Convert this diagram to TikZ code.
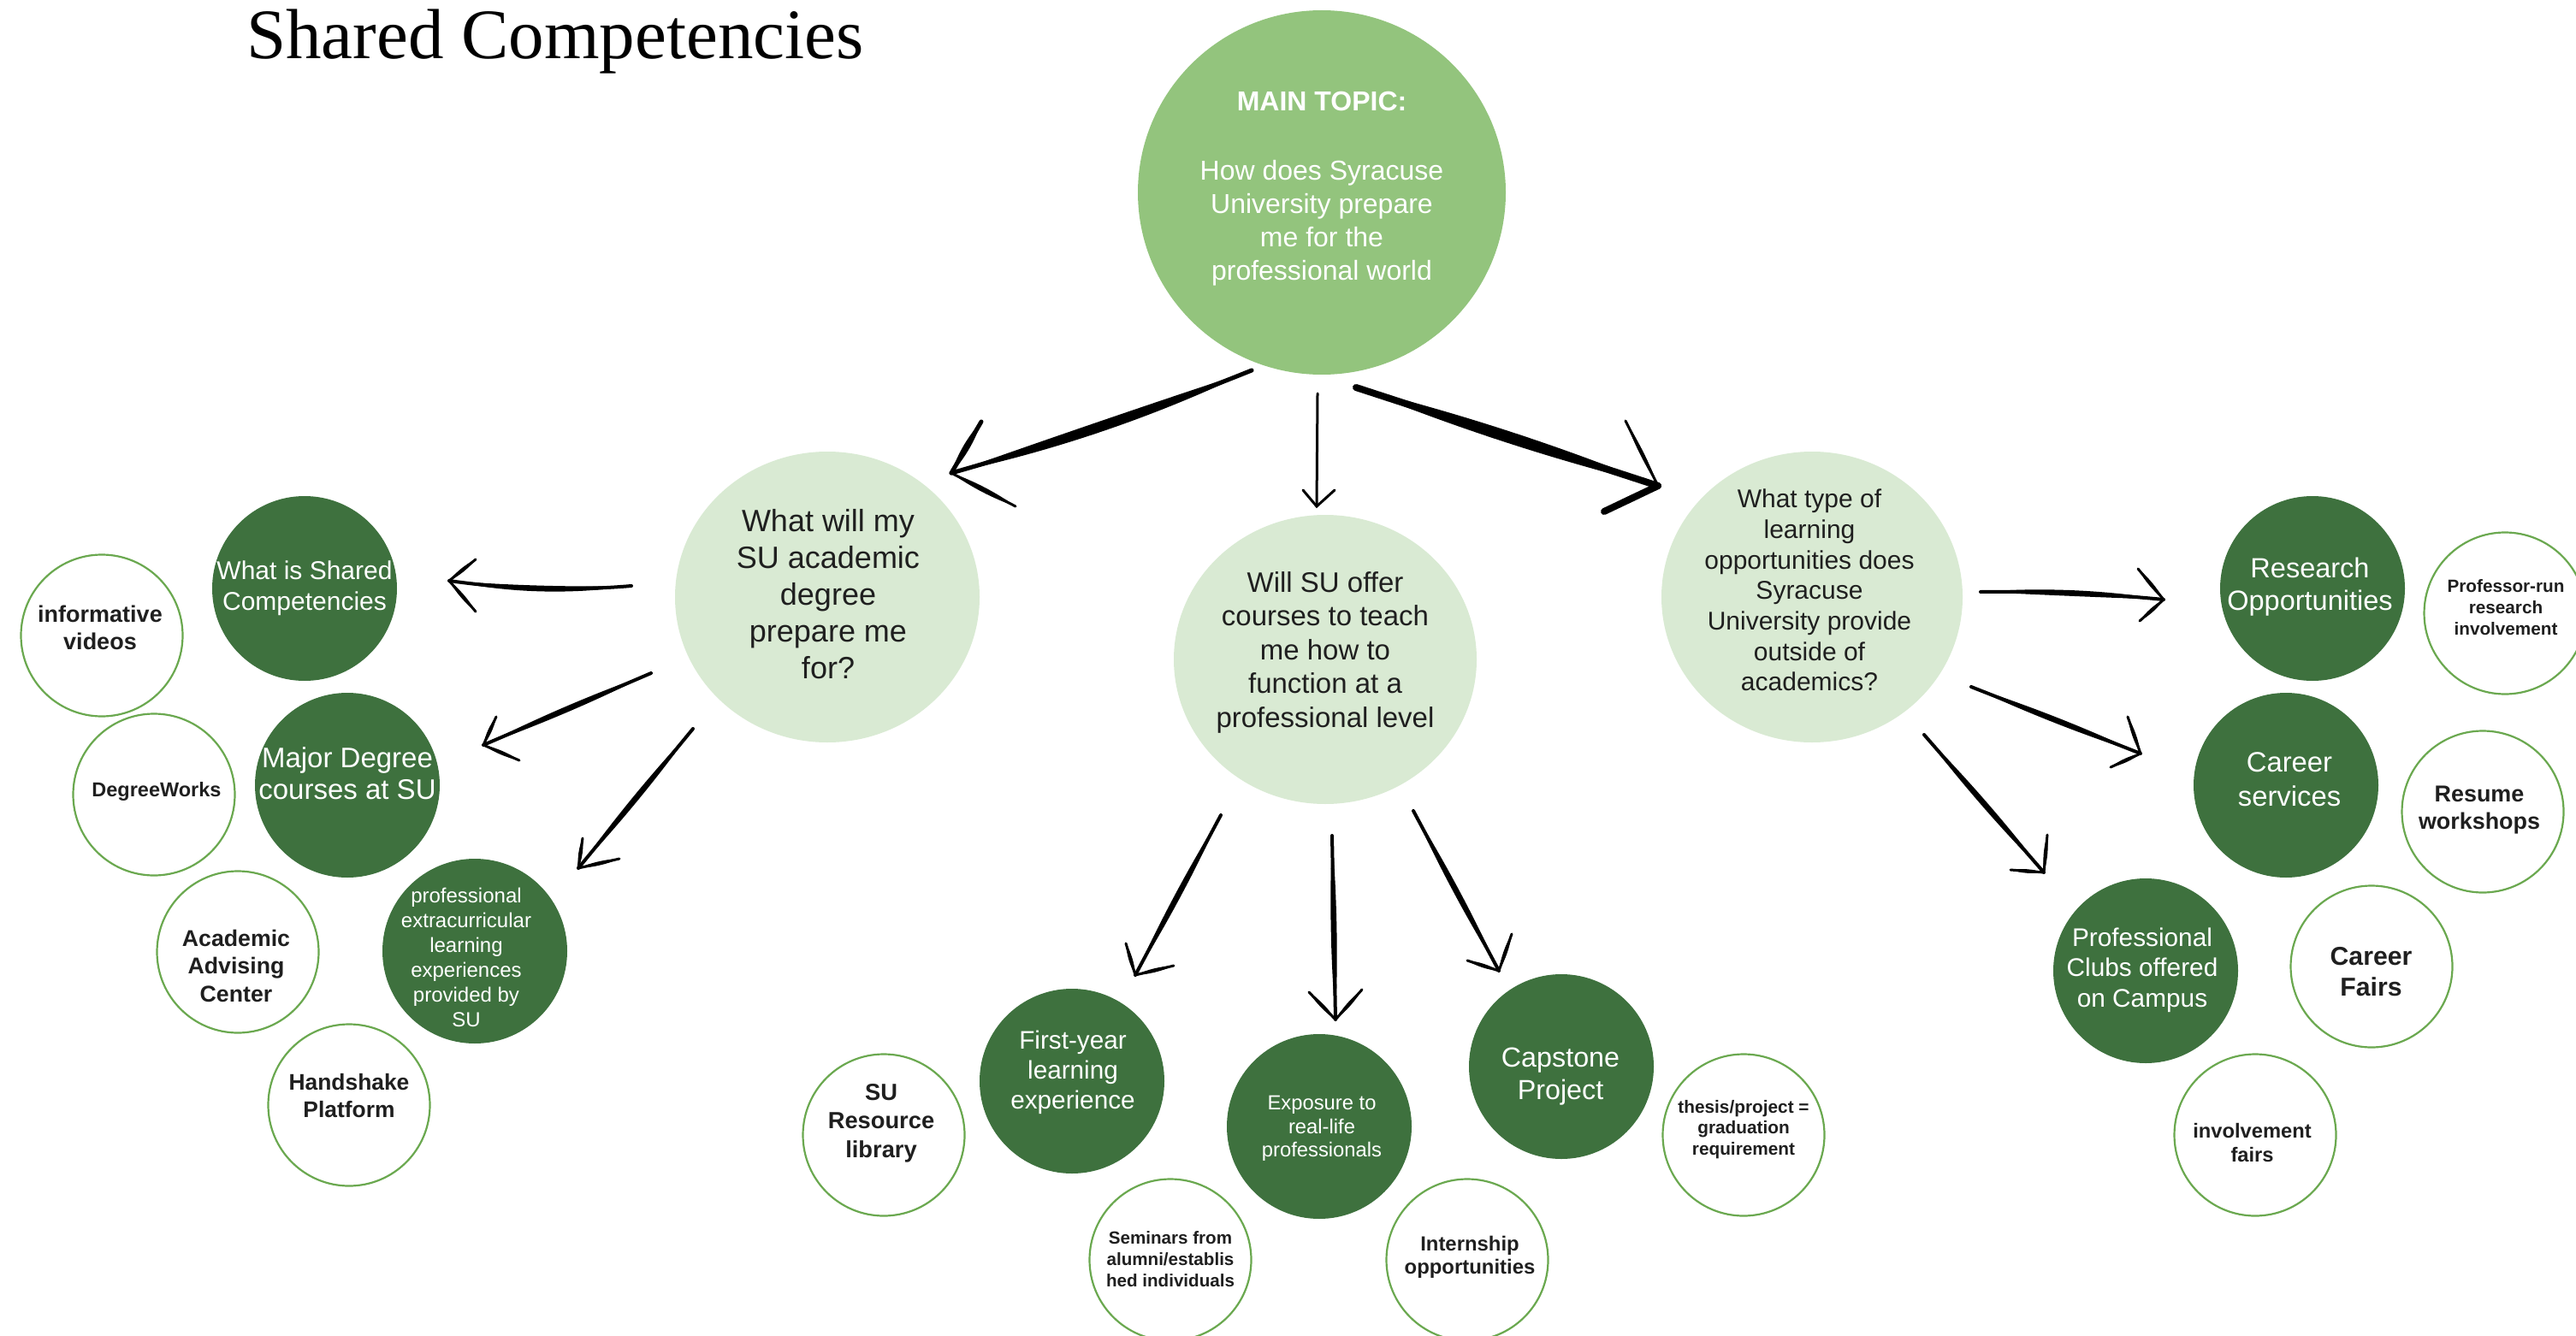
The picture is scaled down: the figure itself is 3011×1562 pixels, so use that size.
\documentclass[tikz,border=0pt]{standalone}
\usepackage{fontspec}
\setmainfont{Liberation Sans}
\newfontfamily\titlefont{Liberation Serif}
\usetikzlibrary{calc,shapes.geometric}

\definecolor{topicgreen}{HTML}{93C47D}
\definecolor{questiongreen}{HTML}{D9EAD3}
\definecolor{leafgreen}{HTML}{3E713E}
\definecolor{ringgreen}{HTML}{6AA84F}
\definecolor{ink}{HTML}{1F1F1F}

% font size / leading in pt
\newcommand\setfs[2]{\fontsize{#1pt}{#2pt}\selectfont}

% hand-drawn brush stroke: start, end, core width,
% control offsets of the two sides, control offset of the centre line
\newcommand\brush[6]{%
  \fill[black] (#1) .. controls ($(#1)!0.33!(#2)!#4!90:(#2)$) and ($(#1)!0.67!(#2)!#4!90:(#2)$) .. (#2)
     .. controls ($(#1)!0.67!(#2)!#5!90:(#2)$) and ($(#1)!0.33!(#2)!#5!90:(#2)$) .. (#1) -- cycle;
  \draw[black, line width=#3, line cap=round] (#1) .. controls ($(#1)!0.33!(#2)!#6!90:(#2)$) and ($(#1)!0.67!(#2)!#6!90:(#2)$) .. (#2);
}

\begin{document}
\begin{tikzpicture}[x=1pt, y=-1pt,
  topicnode/.style={ellipse, fill=topicgreen, inner sep=0pt, minimum width=430pt, minimum height=426pt},
  questionnode/.style={ellipse, fill=questiongreen, inner sep=0pt, minimum height=340pt},
  leafnode/.style={circle, fill=leafgreen, inner sep=0pt, minimum size=216pt},
  ringnode/.style={circle, draw=ringgreen, line width=2.2pt, fill=white, inner sep=0pt, minimum size=189pt},
  txt/.style={align=center, inner sep=0pt},
  leaftext/.style={txt, text=white},
  ringtext/.style={txt, text=ink},
  questiontext/.style={txt, text=ink},
  thinarrow/.style={black, line width=3pt, line cap=round}
]
\useasboundingbox (0,0) rectangle (3011,1562);

% title
\node[anchor=base west, inner sep=0pt, font=\titlefont\setfs{83}{90}] (title) at (288,69) {Shared Competencies};

% main topic and the three questions
\node[topicnode] (topic) at (1545,225) {};
\node[questionnode, minimum width=356pt] (q1) at (967,698) {};
\node[questionnode, minimum width=354pt, minimum height=338pt] (q2) at (1549,771) {};
\node[questionnode, minimum width=352pt] (q3) at (2118,698) {};

\node[txt, text=white, font=\setfs{32}{39.2}] (ttopic) at (1545,221)
  {\textbf{MAIN TOPIC:}\\[41pt]How does Syracuse\\University prepare\\me for the\\professional world};
\node[questiontext, font=\setfs{36}{43}] (tq1) at (968,695)
  {What will my\\SU academic\\degree\\prepare me\\for?};
\node[questiontext, font=\setfs{33}{39.5}] (tq2) at (1549,762.5)
  {Will SU offer\\courses to teach\\me how to\\function at a\\professional level};
\node[questiontext, font=\setfs{30}{35.7}] (tq3) at (2115,690)
  {What type of\\learning\\opportunities does\\Syracuse\\University provide\\outside of\\academics?};

% dark green answers
\node[leafnode] (what) at (356,688) {};
\node[leafnode] (major) at (406,918) {};
\node[leafnode] (extra) at (555,1112) {};
\node[leafnode] (first) at (1253,1264) {};
\node[leafnode] (expo) at (1542,1317) {};
\node[leafnode] (cap) at (1825,1247) {};
\node[leafnode] (res) at (2703,688) {};
\node[leafnode] (career) at (2672,918) {};
\node[leafnode] (clubs) at (2508,1135) {};

\node[leaftext, font=\setfs{30}{36}] (twhat) at (356,688) {What is Shared\\Competencies};
\node[leaftext, font=\setfs{33}{37.5}] (tmajor) at (406,904) {Major Degree\\courses at SU};
\node[leaftext, font=\setfs{24}{29}] (textra) at (545,1119)
  {professional\\extracurricular\\learning\\experiences\\provided by\\SU};
\node[leaftext, font=\setfs{29.7}{35.3}] (tfirst) at (1254,1254) {First-year\\learning\\experience};
\node[leaftext, font=\setfs{23.8}{27.5}] (texpo) at (1545,1319.5) {Exposure to\\real-life\\professionals};
\node[leaftext, font=\setfs{32.3}{38}] (tcap) at (1824,1259) {Capstone\\Project};
\node[leaftext, font=\setfs{32.5}{38.3}] (tres) at (2700,686) {Research\\Opportunities};
\node[leaftext, font=\setfs{32.8}{40}] (tcareer) at (2676,911) {Career\\services};
\node[leaftext, font=\setfs{29.8}{35.7}] (tclubs) at (2504,1134) {Professional\\Clubs offered\\on Campus};

% outlined resources
\node[ringnode] (videos) at (119,743) {};
\node[ringnode] (degree) at (180,929) {};
\node[ringnode] (advising) at (278,1113) {};
\node[ringnode] (handshake) at (408,1292) {};
\node[ringnode] (library) at (1033,1327) {};
\node[ringnode] (seminars) at (1368,1473) {};
\node[ringnode] (intern) at (1715,1473) {};
\node[ringnode] (thesis) at (2038,1327) {};
\node[ringnode] (profrun) at (2928,717) {};
\node[ringnode] (resume) at (2902,949) {};
\node[ringnode] (fairs) at (2772,1130) {};
\node[ringnode] (involve) at (2636,1327) {};

\node[ringtext, font=\bfseries\setfs{27}{31.6}] (tvideos) at (117,734) {informative\\videos};
\node[ringtext, font=\bfseries\setfs{23.5}{28}] (tdegree) at (183,925) {DegreeWorks};
\node[ringtext, font=\bfseries\setfs{26.7}{32.5}] (tadvising) at (276,1129) {Academic\\Advising\\Center};
\node[ringtext, font=\bfseries\setfs{26.4}{32}] (thandshake) at (408,1281.5) {Handshake\\Platform};
\node[ringtext, font=\bfseries\setfs{27.3}{33.3}] (tlibrary) at (1030,1313) {SU\\Resource\\library};
\node[ringtext, font=\bfseries\setfs{20.6}{25}] (tseminars) at (1368,1472.5) {Seminars from\\alumni/establis\\hed individuals};
\node[ringtext, font=\bfseries\setfs{23.9}{26.7}] (tintern) at (1718,1470) {Internship\\opportunities};
\node[ringtext, font=\bfseries\setfs{20.8}{24.2}] (tthesis) at (2038,1320.5) {thesis/project =\\graduation\\requirement};
\node[ringtext, font=\bfseries\setfs{20.7}{25}] (tprofrun) at (2929,710) {Professor-run\\research\\involvement};
\node[ringtext, font=\bfseries\setfs{26.9}{31.6}] (tresume) at (2898,947) {Resume\\workshops};
\node[ringtext, font=\bfseries\setfs{30.2}{35.7}] (tfairs) at (2771.5,1136) {Career\\Fairs};
\node[ringtext, font=\bfseries\setfs{23.7}{28}] (tinvolve) at (2632.5,1336.5) {involvement\\fairs};

% arrow ends (stroke start, tip, and the two barbs)
\coordinate (a1s) at (1463,433);  \coordinate (a1t) at (1112,553);
\coordinate (a1u) at (1147,493);  \coordinate (a1l) at (1187,592);
\coordinate (a2s) at (1540,460);  \coordinate (a2t) at (1539,592);
\coordinate (a2u) at (1523,573);  \coordinate (a2l) at (1560,573);
\coordinate (a3s) at (1585,453);  \coordinate (a3t) at (1938,568);
\coordinate (a3u) at (1900,492);  \coordinate (a3l) at (1875,598);
\coordinate (a4s) at (738,685);   \coordinate (a4t) at (525,679);
\coordinate (a4u) at (556,654);   \coordinate (a4l) at (556,715);
\coordinate (a5s) at (761,787);   \coordinate (a5t) at (565,871);
\coordinate (a5u) at (580,838);   \coordinate (a5l) at (607,889);
\coordinate (a6s) at (810,852);   \coordinate (a6t) at (676,1015);
\coordinate (a6u) at (681,980);   \coordinate (a6l) at (724,1004);
\coordinate (a7s) at (1427,953);  \coordinate (a7t) at (1327,1140);
\coordinate (a7u) at (1316,1103); \coordinate (a7l) at (1372,1129);
\coordinate (a8s) at (1557,977);  \coordinate (a8t) at (1561,1192);
\coordinate (a8u) at (1530,1160); \coordinate (a8l) at (1592,1157);
\coordinate (a9s) at (1652,948);  \coordinate (a9t) at (1752,1135);
\coordinate (a9u) at (1767,1092); \coordinate (a9l) at (1715,1123);
\coordinate (a10s) at (2315,692); \coordinate (a10t) at (2529,701);
\coordinate (a10u) at (2499,665); \coordinate (a10l) at (2501,726);
\coordinate (a11s) at (2304,803); \coordinate (a11t) at (2502,881);
\coordinate (a11u) at (2487,838); \coordinate (a11l) at (2467,897);
\coordinate (a12s) at (2249,859); \coordinate (a12t) at (2389,1020);
\coordinate (a12u) at (2393,976); \coordinate (a12l) at (2350,1017);

% main topic to the questions
\brush{a1s}{a1t}{5pt}{14.7pt}{-1.3pt}{6.7pt}
\brush{a1t}{a1u}{5pt}{5pt}{-5pt}{0pt}
\brush{a1t}{a1l}{3pt}{4pt}{-4pt}{0pt}
\draw[thinarrow] (a2s) -- (a2t);
\draw[thinarrow] (a2u) -- (a2t) -- (a2l);
\brush{a3s}{a3t}{8pt}{9pt}{-9pt}{0pt}
\brush{a3t}{a3u}{3pt}{3pt}{-3pt}{0pt}
\brush{a3t}{a3l}{8pt}{5pt}{-5pt}{0pt}

% questions to their answers
\brush{a4s}{a4t}{4pt}{12.5pt}{3.5pt}{8pt}
\brush{a4t}{a4u}{3pt}{3pt}{-3pt}{0pt}
\brush{a4t}{a4l}{3pt}{3pt}{-3pt}{0pt}
\brush{a5s}{a5t}{4pt}{4.5pt}{-4.5pt}{0pt}
\brush{a5t}{a5u}{3pt}{3pt}{-3pt}{0pt}
\brush{a5t}{a5l}{3pt}{3pt}{-3pt}{0pt}
\brush{a6s}{a6t}{4pt}{4.5pt}{-4.5pt}{0pt}
\brush{a6t}{a6u}{3pt}{3pt}{-3pt}{0pt}
\brush{a6t}{a6l}{3pt}{3pt}{-3pt}{0pt}
\brush{a7s}{a7t}{4pt}{4.5pt}{-4.5pt}{0pt}
\brush{a7t}{a7u}{3pt}{3pt}{-3pt}{0pt}
\brush{a7t}{a7l}{3pt}{3pt}{-3pt}{0pt}
\brush{a8s}{a8t}{4pt}{4.5pt}{-4.5pt}{0pt}
\brush{a8t}{a8u}{3pt}{3pt}{-3pt}{0pt}
\brush{a8t}{a8l}{3pt}{3pt}{-3pt}{0pt}
\brush{a9s}{a9t}{4pt}{4.5pt}{-4.5pt}{0pt}
\brush{a9t}{a9u}{3pt}{3pt}{-3pt}{0pt}
\brush{a9t}{a9l}{3pt}{3pt}{-3pt}{0pt}
\brush{a10s}{a10t}{4pt}{8.5pt}{-0.5pt}{4pt}
\brush{a10t}{a10u}{3pt}{3pt}{-3pt}{0pt}
\brush{a10t}{a10l}{3pt}{3pt}{-3pt}{0pt}
\brush{a11s}{a11t}{4pt}{4.5pt}{-4.5pt}{0pt}
\brush{a11t}{a11u}{3pt}{3pt}{-3pt}{0pt}
\brush{a11t}{a11l}{3pt}{3pt}{-3pt}{0pt}
\brush{a12s}{a12t}{4pt}{4.5pt}{-4.5pt}{0pt}
\brush{a12t}{a12u}{3pt}{3pt}{-3pt}{0pt}
\brush{a12t}{a12l}{3pt}{3pt}{-3pt}{0pt}
\end{tikzpicture}
\end{document}
